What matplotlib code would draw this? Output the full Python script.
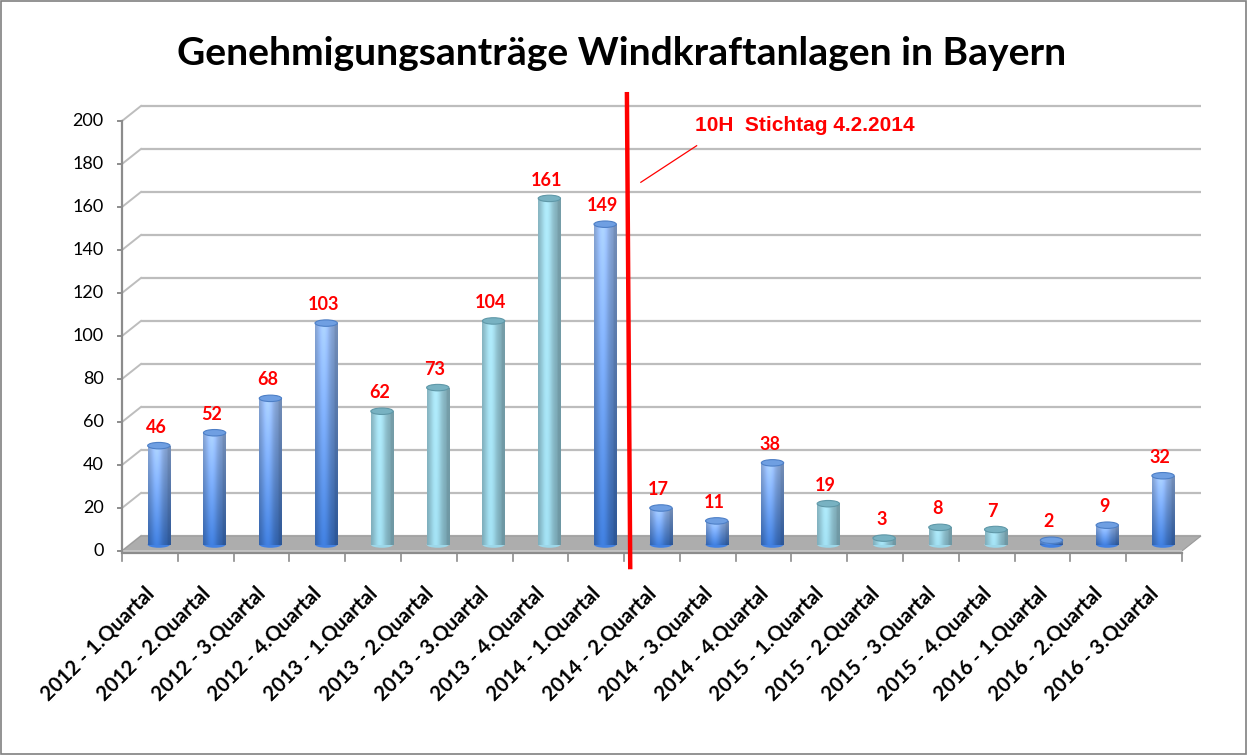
import numpy as np
import matplotlib
matplotlib.use("Agg")
import matplotlib.pyplot as plt
from matplotlib.patches import Ellipse, Polygon, Rectangle
from matplotlib.colors import to_rgb

# ---------------- data ----------------
categories = ["2012 - 1.Quartal", "2012 - 2.Quartal", "2012 - 3.Quartal", "2012 - 4.Quartal",
              "2013 - 1.Quartal", "2013 - 2.Quartal", "2013 - 3.Quartal", "2013 - 4.Quartal",
              "2014 - 1.Quartal", "2014 - 2.Quartal", "2014 - 3.Quartal", "2014 - 4.Quartal",
              "2015 - 1.Quartal", "2015 - 2.Quartal", "2015 - 3.Quartal", "2015 - 4.Quartal",
              "2016 - 1.Quartal", "2016 - 2.Quartal", "2016 - 3.Quartal"]
values = [46, 52, 68, 103, 62, 73, 104, 161, 149, 17, 11, 38, 19, 3, 8, 7, 2, 9, 32]
years = [c[:4] for c in categories]
yticks = [0, 20, 40, 60, 80, 100, 120, 140, 160, 180, 200]
title = "Genehmigungsanträge Windkraftanlagen in Bayern"
annot_text = "10H  Stichtag 4.2.2014"
cutoff_pos = 8.5  # between 2014-1 and 2014-2

# ---------------- style ----------------
W, H = 1247, 755
fig = plt.figure(figsize=(W / 100, H / 100), dpi=100)
fig.patch.set_facecolor("white")
ax = fig.add_axes([122 / W, (H - 551) / H, 1060 / W, 430 / H])
ax.set_facecolor("none")

n = len(values)
DX, DY = 0.34, 7.0        # back-wall offset
MX, MY = 0.16, 3.0        # bar mid-depth offset
BW = 0.40                 # bar width (category units)
EH = 3.0                  # ellipse height (value units)

grid_col = "#bdbdbd"
axis_col = "#8c8c8c"

# back wall gridlines + diagonals
for v in yticks:
    ax.plot([-0.5 + DX, n - 0.5 + DX], [v + DY, v + DY], color=grid_col, lw=1.6,
            zorder=1, clip_on=False, solid_capstyle="butt")
    ax.plot([-0.5, -0.5 + DX], [v, v + DY], color=grid_col, lw=1.4, zorder=1, clip_on=False)
    ax.plot([-0.5 - 0.08, -0.5], [v, v], color=axis_col, lw=1.4, zorder=2, clip_on=False)

# floor
floor = Polygon([[-0.5, 0], [n - 0.5, 0], [n - 0.5 + DX, DY], [-0.5 + DX, DY]],
                closed=True, facecolor="#adadad", edgecolor="#9a9a9a", lw=0.8, zorder=1.5,
                clip_on=False)
ax.add_patch(floor)
front = Polygon([[-0.5, -1.0], [n - 0.5, -1.0], [n - 0.5, 0.4], [-0.5, 0.4]],
                closed=True, facecolor="#c4c4c4", edgecolor="none", zorder=1.6, clip_on=False)
ax.add_patch(front)

# front axes lines and ticks
ax.plot([-0.5, -0.5], [0, 200], color=axis_col, lw=1.6, zorder=2, clip_on=False)
ax.plot([-0.5, n - 0.5], [-1.0, -1.0], color=axis_col, lw=1.6, zorder=2, clip_on=False)
for b in range(n + 1):
    ax.plot([b - 0.5, b - 0.5], [-1.0, -4.5], color=axis_col, lw=1.2, zorder=2, clip_on=False)

# cylinder bars
def shade_img(kind, nrows=120, ncols=40):
    s = np.linspace(0, 1, ncols)
    hfac = 0.78 + 0.30 * np.exp(-((s - 0.38) / 0.28) ** 2)
    hfac[s > 0.85] *= 0.92
    t = np.linspace(0, 1, nrows)[:, None]
    if kind == "blue":
        bot = np.array(to_rgb("#3d78d2"))
        top = np.array(to_rgb("#a2c6ff"))
    else:
        bot = np.array(to_rgb("#98d2e3"))
        top = np.array(to_rgb("#a4dbea"))
    base = bot[None, None, :] * (1 - t[..., None]) + top[None, None, :] * t[..., None]
    img = base * hfac[None, :, None]
    return np.clip(img, 0, 1)

for i, (v, y) in enumerate(zip(values, years)):
    kind = "cyan" if y in ("2013", "2015") else "blue"
    xc = i + MX
    y0, y1 = MY, v + MY
    img = shade_img(kind)
    botc = tuple(img[0, 14]) if kind == "blue" else tuple(img[0, 14] * 0.95)
    ax.add_patch(Ellipse((xc, y0), BW, EH, facecolor=botc, edgecolor="none", zorder=3))
    ax.imshow(img, extent=[xc - BW / 2, xc + BW / 2, y0, y1], origin="lower",
              aspect="auto", zorder=3.2, interpolation="bilinear")
    capc = "#6f9fe2" if kind == "blue" else "#78b2c2"
    cape = "#4d7fc6" if kind == "blue" else "#5f98a8"
    ax.add_patch(Ellipse((xc, y1), BW, EH, facecolor=capc, edgecolor=cape, lw=0.8, zorder=3.5))
    ax.text(xc - 0.05, v + 9, str(v), ha="center", va="baseline", color="#ff0000",
            fontsize=13, fontweight="bold", family="Lato", zorder=5)

# x labels
for i, c in enumerate(categories):
    ax.text(i - 0.1, -15, c, rotation=45, rotation_mode="anchor", ha="right", va="top",
            fontsize=14.8, fontweight="bold", family="Lato", color="black")

# y tick labels
for v in yticks:
    ax.text(-0.5 - 0.33, v, str(v), ha="right", va="center", fontsize=13,
            family="Lato", color="black")

# red cut-off line
ax.plot([cutoff_pos + 0.05, cutoff_pos + 0.11], [213.5, -8.5], color="#ff0000", lw=3.2,
        zorder=6, clip_on=False, solid_capstyle="butt")
# annotation
ax.plot([cutoff_pos + 0.30, cutoff_pos + 1.30], [171.5, 188.5], color="#ff0000", lw=0.9,
        zorder=6, clip_on=False)
ax.text(cutoff_pos + 1.27, 195.5, annot_text, ha="left", va="baseline", color="#ff0000",
        fontsize=15, fontweight="bold", family=["Liberation Sans Narrow", "Liberation Sans"])

ax.set_xlim(-0.5, n - 0.5)
ax.set_ylim(0, 200)
ax.axis("off")

fig.text(622 / W, (H - 65) / H, title, ha="center", va="baseline", fontsize=28.1,
         fontweight="bold", family="Lato")

fig.add_artist(Rectangle((0.0008, 0.0013), 0.9984, 0.9974, transform=fig.transFigure,
                         fill=False, edgecolor="#808080", lw=1.2))

fig.savefig("out.png", dpi=100)
